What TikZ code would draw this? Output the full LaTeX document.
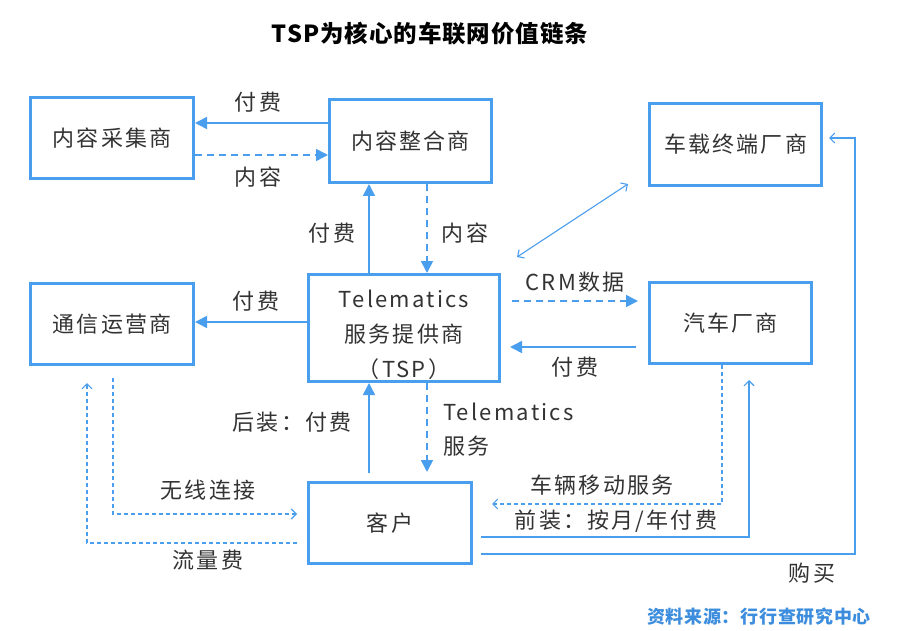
\documentclass[tikz,border=0pt]{standalone}
\usepackage{fontspec}
\setmainfont{Noto Sans CJK SC}[LetterSpace=10]
\newfontfamily\srcfont{Noto Sans CJK SC}[LetterSpace=4]
\newfontfamily\titlefont{Noto Sans CJK SC}[LetterSpace=4]
\usetikzlibrary{arrows.meta,calc}
\definecolor{bl}{HTML}{4A9EEE}
\definecolor{txtc}{HTML}{333333}
\definecolor{srcc}{HTML}{3C8DDD}
\begin{document}
\begin{tikzpicture}[x=1pt,y=-1pt,
 box/.style={draw=bl,line width=3pt,text=txtc,inner sep=0pt,align=center,font=\fontsize{22}{35}\selectfont},
 lbl/.style={text=txtc,inner sep=0pt,font=\fontsize{22}{26}\selectfont},
 mainline/.style={draw=bl,line width=1.6pt},
 tri/.style={-{Triangle[length=12pt,width=12pt]}},
 thinline/.style={draw=bl,line width=1.1pt},
 barb/.style={-{Straight Barb[length=5pt,width=10pt,line width=1.1pt]}},
 dmain/.style={dash pattern=on 7pt off 5pt},
 dthin/.style={dash pattern=on 4pt off 3pt}]
\useasboundingbox[fill=white] (0,0) rectangle (902,631);

% title
\node[text=black,inner sep=0pt,font=\titlefont\fontsize{23.5}{26}\selectfont\bfseries] (title) at (430,34) {TSP为核心的车联网价值链条};

% boxes
\node[box,minimum width=163pt,minimum height=81pt] (cj) at (112,138) {内容采集商};
\node[box,minimum width=162pt,minimum height=83pt] (zh) at (410.5,141) {内容整合商};
\node[box,minimum width=172pt,minimum height=82pt] (zd) at (735.5,144.5) {车载终端厂商};
\node[box,minimum width=163pt,minimum height=81pt] (tx) at (112,324) {通信运营商};
\node[box,minimum width=191pt,minimum height=107pt] (tsp) at (404,328) {\raisebox{-7pt}[\height][\depth]{\begin{tabular}{@{}c@{}}Telematics\\服务提供商\\（TSP）\end{tabular}}};
\node[box,minimum width=162pt,minimum height=81pt] (qc) at (730.5,323) {汽车厂商};
\node[box,minimum width=163pt,minimum height=81pt] (kh) at (390,523) {客户};

% helper levels
\coordinate (h1) at (0,123);
\coordinate (h2) at (0,155);
\coordinate (h3) at (0,301);
\coordinate (h4) at (0,347);
\coordinate (h5) at (0,322);
\coordinate (h6) at (0,514);
\coordinate (h7) at (0,543);
\coordinate (h8) at (0,504);
\coordinate (h9) at (0,537);
\coordinate (h10) at (0,554);
\coordinate (h11) at (0,138);
\coordinate (v1) at (369,0);
\coordinate (v2) at (427,0);
\coordinate (v3) at (113,0);
\coordinate (v4) at (87,0);
\coordinate (v5) at (722,0);
\coordinate (v6) at (749,0);
\coordinate (v7) at (855,0);

% main connectors
\draw[mainline,tri] (zh.west|-h1) -- (cj.east|-h1);
\draw[mainline,dmain,tri] (cj.east|-h2) -- (zh.west|-h2);
\draw[mainline,tri] (tsp.north-|v1) -- (zh.south-|v1);
\draw[mainline,dmain,tri] (zh.south-|v2) -- (tsp.north-|v2);
\draw[mainline,dmain,tri,shorten <=11pt,shorten >=10pt] (tsp.east|-h3) -- (qc.west|-h3);
\draw[mainline,tri,shorten <=12pt,shorten >=9pt] (qc.west|-h4) -- (tsp.east|-h4);
\draw[mainline,tri] (tsp.west|-h5) -- (tx.east|-h5);
\draw[mainline,tri,shorten <=8pt] (kh.north-|v1) -- (tsp.south-|v1);
\draw[mainline,dmain,tri,shorten >=9pt] (tsp.south-|v2) -- (kh.north-|v2);

% thin connectors
\draw[thinline,{Straight Barb[length=5pt,width=10pt,line width=1.1pt]}-{Straight Barb[length=5pt,width=10pt,line width=1.1pt]}] ($(tsp.north east)+(16,-16)$) -- ($(zd.south west)+(-20,-3)$);
\draw[thinline,dthin,barb,shorten <=12pt,shorten >=10pt] (tx.south-|v3) |- (kh.west|-h6);
\draw[thinline,dthin,barb,shorten <=10pt,shorten >=17pt] (kh.west|-h7) -| (tx.south-|v4);
\draw[thinline,dthin,barb,shorten >=19pt] (qc.south-|v5) |- (kh.east|-h8);
\draw[thinline,barb,shorten <=8pt,shorten >=15pt] (kh.east|-h9) -| (qc.south-|v6);
\draw[thinline,barb,shorten <=8pt,shorten >=6pt] (kh.east|-h10) -| (v7|-h11) -- (zd.east|-h11);

% labels
\node[lbl] (l1) at (258,102) {付费};
\node[lbl] (l2) at (258,177) {内容};
\node[lbl] (l3) at (332,233) {付费};
\node[lbl] (l4) at (465,233) {内容};
\node[lbl] (l5) at (256,301) {付费};
\node[lbl] (l6) at (575,282) {CRM数据};
\node[lbl] (l7) at (575,367) {付费};
\node[lbl] (l8) at (292,422) {后装：付费};
\node[lbl,anchor=west] (l9) at (443,412) {Telematics};
\node[lbl,anchor=west] (l10) at (443,446) {服务};
\node[lbl] (l11) at (208,490) {无线连接};
\node[lbl] (l12) at (208,560) {流量费};
\node[lbl] (l13) at (602,485) {车辆移动服务};
\node[lbl] (l14) at (616,521) {前装：按月/年付费};
\node[lbl] (l15) at (812,573) {购买};

% source
\node[text=srcc,inner sep=0pt,font=\srcfont\fontsize{18}{20}\selectfont\bfseries] (src) at (759,617) {资料来源：行行查研究中心};
\end{tikzpicture}
\end{document}
